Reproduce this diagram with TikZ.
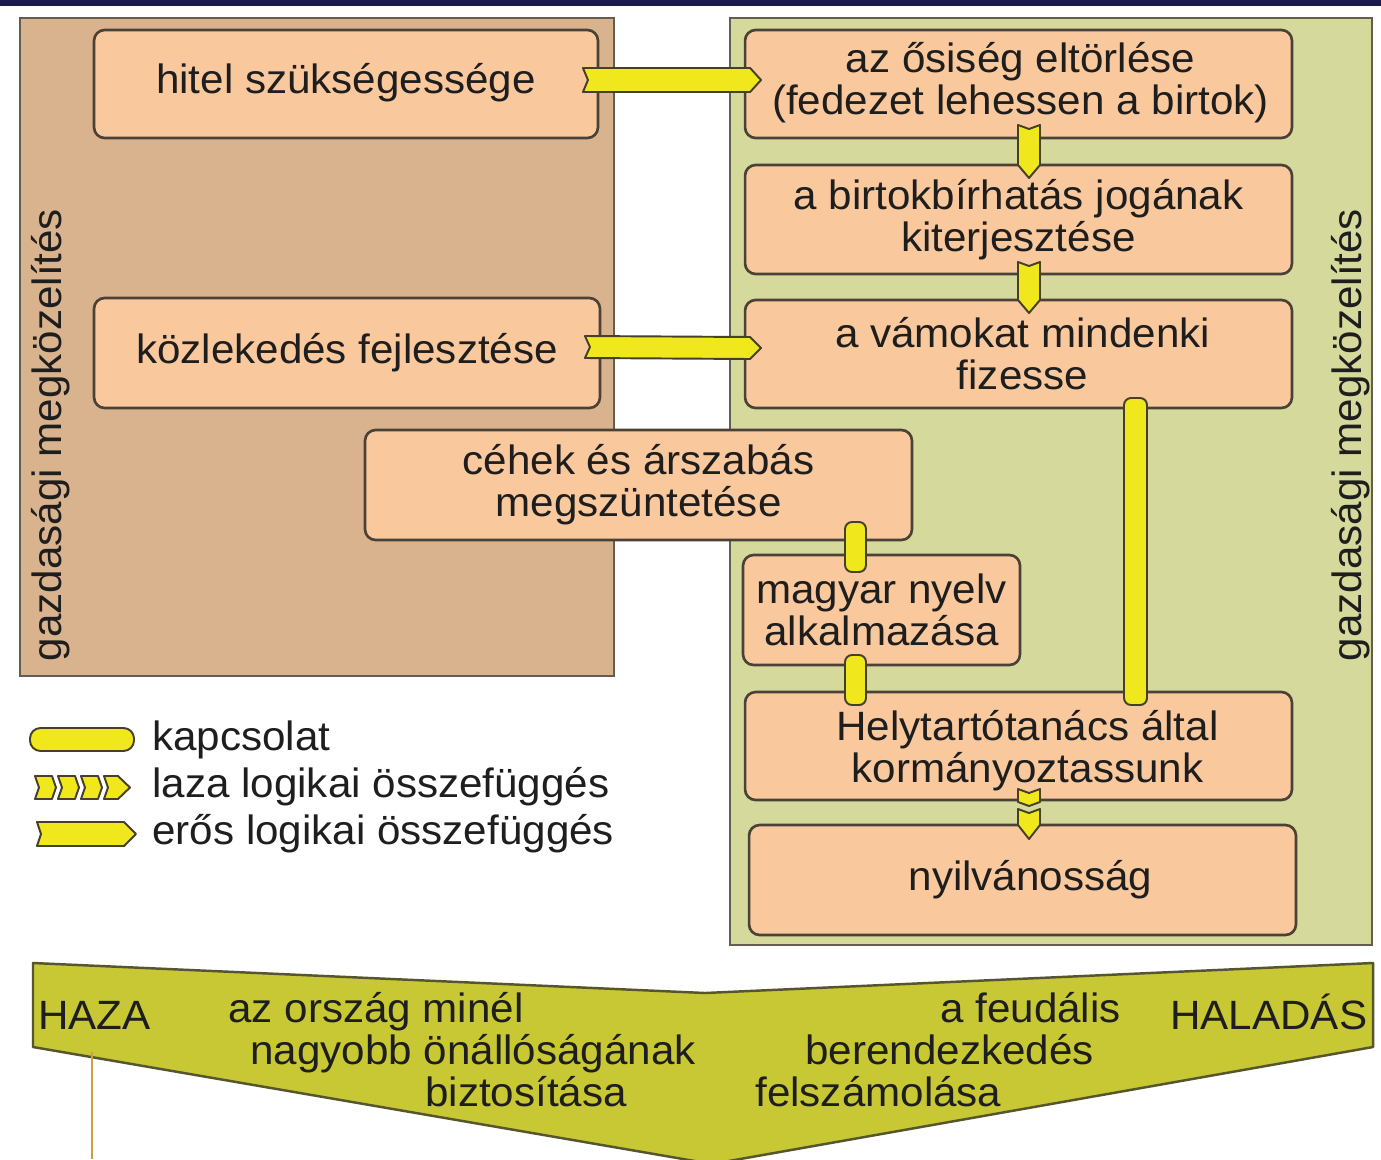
\documentclass[tikz,border=0pt]{standalone}
\usepackage{fontspec}
\setmainfont{Liberation Sans}[FakeStretch=1.03]
\usetikzlibrary{calc}

\definecolor{topnavy}{HTML}{1B1A4C}
\definecolor{panelbrown}{HTML}{D9B38E}
\definecolor{panelgreen}{HTML}{D5D99B}
\definecolor{panelline}{HTML}{655D50}
\definecolor{boxpeach}{HTML}{FAC89D}
\definecolor{boxline}{HTML}{4A4236}
\definecolor{arrowfill}{HTML}{F0E81C}
\definecolor{arrowline}{HTML}{45402A}
\definecolor{bandolive}{HTML}{C8C835}
\definecolor{bandline}{HTML}{56552E}
\definecolor{goldline}{HTML}{C9A048}
\definecolor{ink}{HTML}{1E1E1E}

\tikzset{
  panelbox/.style={shape=rectangle, draw=panelline, line width=1.4pt, inner sep=0, outer sep=0},
  itembox/.style={shape=rectangle, draw=boxline, fill=boxpeach, line width=1.5pt, rounded corners=6pt, inner sep=0, outer sep=0},
  itemtext/.style={anchor=center, align=center, inner sep=0, text=ink, font=\fontsize{23.3}{24}\selectfont},
  sidetext/.style={anchor=center, inner sep=0, text=ink, rotate=90, font=\fontsize{23.3}{24}\selectfont},
  legendtext/.style={anchor=west, inner sep=0, text=ink, font=\fontsize{23.3}{24}\selectfont},
  bandtext/.style={anchor=base west, inner sep=0, text=ink, font=\fontsize{23.3}{24}\selectfont},
  strongarrow/.style={draw=arrowline, fill=arrowfill, line width=1.1pt, line join=round},
  linkbar/.style={draw=arrowline, fill=arrowfill, line width=1.1pt, rounded corners=4pt},
}

\begin{document}
\begin{tikzpicture}[x=0.02cm, y=-0.02cm]
  \useasboundingbox[fill=white] (0, 0) rectangle (1381, 1159);
  \fill[topnavy] (0, 0) rectangle (1381, 6);
  % Panels:
  \node[panelbox, fill=panelbrown, minimum width=11.88cm, minimum height=13.16cm] (leftpanel) at (317, 347){};
  \node[panelbox, fill=panelgreen, minimum width=12.84cm, minimum height=18.54cm] (rightpanel) at (1051, 481.5){};
  \node[sidetext] (lefttitle) at (51, 435){gazdasági megközelítés};
  \node[sidetext] (righttitle) at (1351, 435){gazdasági megközelítés};
  % Boxes:
  \node[itembox, minimum width=10.08cm, minimum height=2.16cm] (hitel) at (346, 84){};
  \node[itembox, minimum width=10.12cm, minimum height=2.2cm] (kozlek) at (347, 353){};
  \node[itembox, minimum width=10.94cm, minimum height=2.2cm] (cehek) at (638.5, 485){};
  \node[itembox, minimum width=10.94cm, minimum height=2.16cm] (osiseg) at (1018.5, 84){};
  \node[itembox, minimum width=10.94cm, minimum height=2.18cm] (birtok) at (1018.5, 219.5){};
  \node[itembox, minimum width=10.94cm, minimum height=2.16cm] (vamok) at (1018.5, 354){};
  \node[itembox, minimum width=5.54cm, minimum height=2.2cm] (magyar) at (881.5, 610){};
  \node[itembox, minimum width=10.94cm, minimum height=2.16cm] (helyt) at (1018.5, 746){};
  \node[itembox, minimum width=10.94cm, minimum height=2.2cm] (nyilv) at (1022.5, 880){};
  % Strong links:
  \draw[strongarrow] ($(hitel.east)+(-15,-16)$) -- ($(osiseg.west)+(5,-16)$) -- ($(osiseg.west)+(16,-4)$) -- ($(osiseg.west)+(5,8)$) -- ($(hitel.east)+(-15,8)$) -- ($(hitel.east)+(-10,-4)$) -- cycle;
  \draw[strongarrow] ($(kozlek.east)+(-15,-17)$) -- ($(vamok.west)+(5,-17)$) -- ($(vamok.west)+(16,-6)$) -- ($(vamok.west)+(5,5)$) -- ($(kozlek.east)+(-15,5)$) -- ($(kozlek.east)+(-10,-6)$) -- cycle;
  \draw[strongarrow] ($(osiseg.south)+(-0.5,-13)$) -- ($(birtok.north)+(-0.5,0)$) -- ($(birtok.north)+(10.5,13)$) -- ($(birtok.north)+(21.5,0)$) -- ($(osiseg.south)+(21.5,-13)$) -- ($(osiseg.south)+(10.5,-9)$) -- cycle;
  \draw[strongarrow] ($(birtok.south)+(-0.5,-12)$) -- ($(vamok.north)+(-0.5,0)$) -- ($(vamok.north)+(10.5,13)$) -- ($(vamok.north)+(21.5,0)$) -- ($(birtok.south)+(21.5,-12)$) -- ($(birtok.south)+(10.5,-8)$) -- cycle;
  % Loose link:
  \draw[strongarrow] ($(helyt.south)+(-0.5,-11)$) -- ($(helyt.south)+(10.5,-7)$) -- ($(helyt.south)+(21.5,-11)$) -- ($(helyt.south)+(21.5,2)$) -- ($(helyt.south)+(10.5,6)$) -- ($(helyt.south)+(-0.5,2)$) -- cycle;
  \draw[strongarrow] ($(nyilv.north -| helyt.south)+(-0.5,-16)$) -- ($(nyilv.north -| helyt.south)+(10.5,-12)$) -- ($(nyilv.north -| helyt.south)+(21.5,-16)$) -- ($(nyilv.north -| helyt.south)+(21.5,0)$) -- ($(nyilv.north -| helyt.south)+(10.5,14)$) -- ($(nyilv.north -| helyt.south)+(-0.5,0)$) -- cycle;
  % Plain links:
  \coordinate (barA) at (855.5, 0);
  \coordinate (barB) at (1135.5, 0);
  \draw[linkbar] ($(barA |- cehek.south)+(-10.5,-18)$) rectangle ($(barA |- magyar.north)+(10.5,17)$);
  \draw[linkbar] ($(barA |- magyar.south)+(-10.5,-10)$) rectangle ($(barA |- helyt.north)+(10.5,13)$);
  \draw[linkbar] ($(barB |- vamok.south)+(-11.5,-10)$) rectangle ($(barB |- helyt.north)+(11.5,13)$);
  % Box texts:
  \node[itemtext] (hiteltxt) at ($(hitel)+(0,-1)$){hitel szükségessége};
  \node[itemtext] (kozlektxt) at (kozlek){közlekedés fejlesztése};
  \node[itemtext] (cehektxt) at (cehek){céhek és árszabás\\megszüntetése};
  \node[itemtext] (osisegtxt) at ($(osiseg)+(2,-1)$){az ősiség eltörlése\\(fedezet lehessen a birtok)};
  \node[itemtext] (birtoktxt) at (birtok){a birtokbírhatás jogának\\kiterjesztése};
  \node[itemtext] (vamoktxt) at ($(vamok)+(4,0)$){a vámokat mindenki\\fizesse};
  \node[itemtext] (magyartxt) at (magyar){magyar nyelv\\alkalmazása};
  \node[itemtext] (helyttxt) at ($(helyt)+(9,5)$){Helytartótanács által\\kormányoztassunk};
  \node[itemtext] (nyilvtxt) at ($(nyilv)+(8,0)$){nyilvánosság};
  % Legend:
  \draw[linkbar, rounded corners=6pt] (30, 728) rectangle (134, 751);
  \draw[strongarrow] (35, 776) -- (52, 776) -- (56, 787.5) -- (52, 799) -- (35, 799) -- (39, 787.5) -- cycle;
  \draw[strongarrow] (58, 776) -- (75, 776) -- (79, 787.5) -- (75, 799) -- (58, 799) -- (62, 787.5) -- cycle;
  \draw[strongarrow] (81, 776) -- (98, 776) -- (102, 787.5) -- (98, 799) -- (81, 799) -- (85, 787.5) -- cycle;
  \draw[strongarrow] (104, 776) -- (118, 776) -- (130, 787.5) -- (118, 799) -- (104, 799) -- (108, 787.5) -- cycle;
  \draw[strongarrow] (37, 822) -- (124, 822) -- (136, 834) -- (124, 846) -- (37, 846) -- (41, 834) -- cycle;
  \node[legendtext] (kapcs) at (152, 740){kapcsolat};
  \node[legendtext] (laza) at (152, 787){laza logikai összefüggés};
  \node[legendtext] (eros) at (152, 834){erős logikai összefüggés};
  % Bottom band:
  \draw[fill=bandolive, draw=bandline, line width=1.4pt, line join=round] (33, 963) -- (705, 993) -- (1373, 963) -- (1373, 1047) -- (712, 1164) -- (33, 1047) -- cycle;
  \coordinate (hazafoot) at (92, 1052);
  \coordinate (hazaend) at (92, 1159);
  \draw[goldline, line width=1.4pt] (hazafoot) -- (hazaend);
  \node[bandtext] (haza) at (38, 1029){HAZA};
  \node[bandtext] (orszag1) at (228, 1022){az ország minél};
  \node[bandtext] (orszag2) at (250, 1064){nagyobb önállóságának};
  \node[bandtext] (orszag3) at (425, 1106){biztosítása};
  \node[bandtext] (feudal1) at (940, 1022){a feudális};
  \node[bandtext] (feudal2) at (805, 1064){berendezkedés};
  \node[bandtext] (feudal3) at (755, 1106){felszámolása};
  \node[bandtext] (halad) at (1170, 1029){HALADÁS};
\end{tikzpicture}
\end{document}
